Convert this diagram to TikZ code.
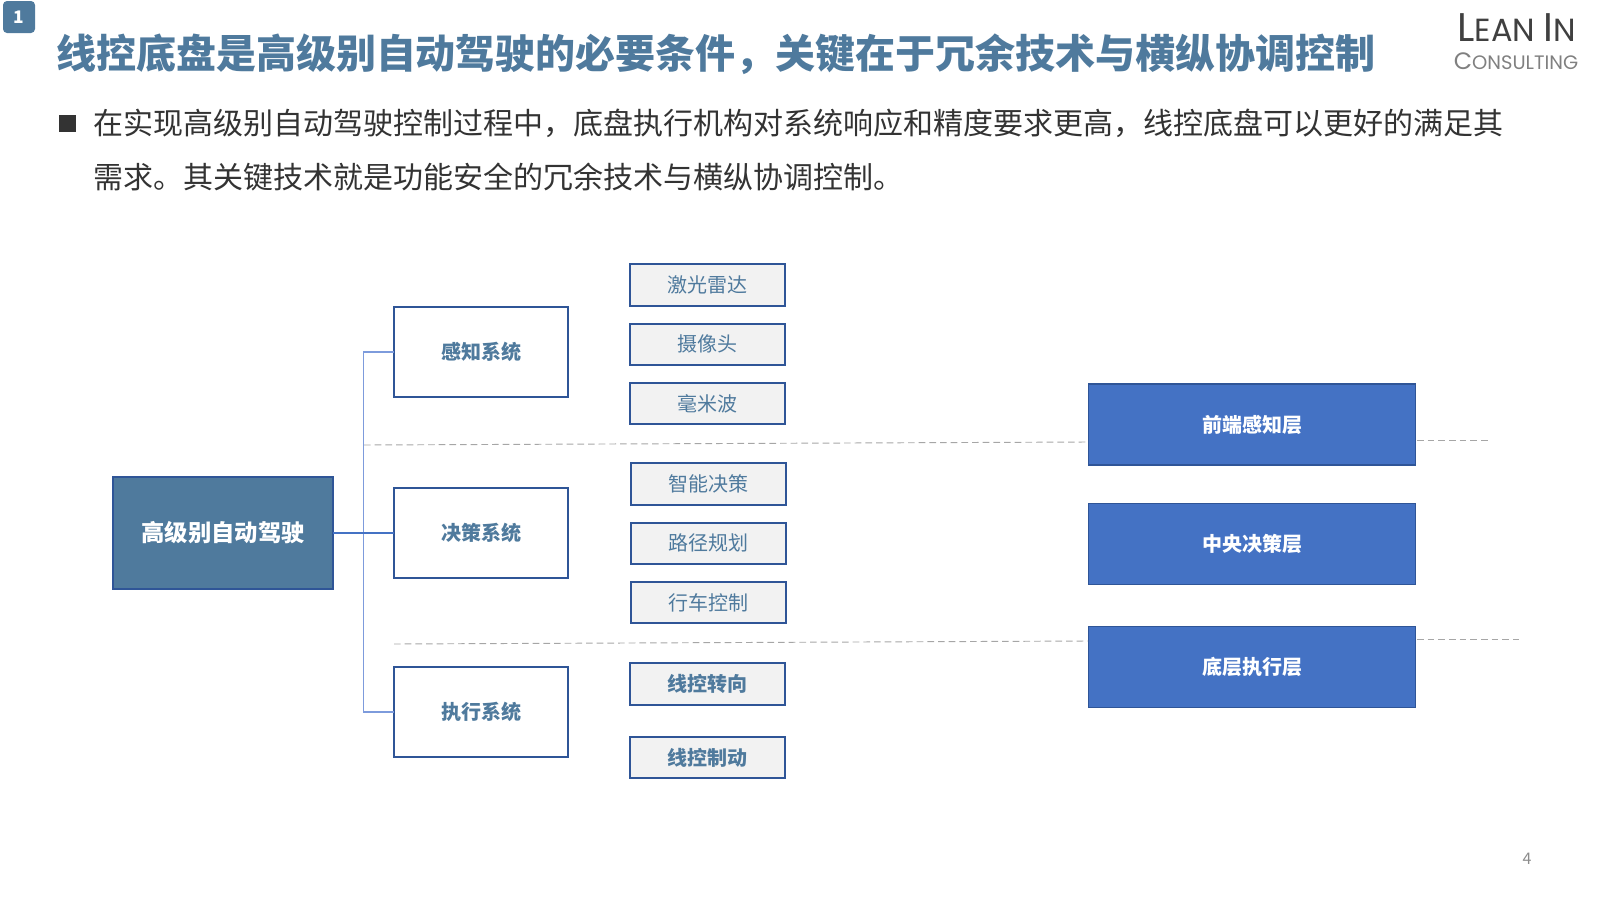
\documentclass[tikz,border=0pt]{standalone}
\usepackage{fontspec}
\usepackage{xcolor}
\usetikzlibrary{positioning}
\setmainfont{Noto Sans CJK SC}
\newfontfamily\logofont{Poppins}
\definecolor{steelblue}{RGB}{79,122,157}
\definecolor{deepblue}{RGB}{47,85,151}
\definecolor{layerblue}{RGB}{68,114,196}
\definecolor{trunkblue}{RGB}{125,155,220}
\definecolor{leafgrey}{RGB}{242,242,242}
\definecolor{bodygrey}{RGB}{51,51,51}
\definecolor{dashgrey}{RGB}{166,166,166}

\begin{document}
\begin{tikzpicture}[x=0.75pt, y=-0.75pt, node distance=13.4pt, every node/.style={inner sep=0pt, outer sep=0pt}]
  \tikzstyle{rootbox}=[rectangle, draw=deepblue, line width=1.5pt, fill=steelblue, text=white, font=\fontsize{17.5}{21}\selectfont\bfseries, minimum width=164.5pt, minimum height=84.5pt]
  \tikzstyle{sysbox}=[rectangle, draw=deepblue, line width=1.5pt, fill=white, text=steelblue, font=\fontsize{15}{18}\selectfont\bfseries, minimum width=130.5pt, minimum height=67.5pt]
  \tikzstyle{leafbox}=[rectangle, draw=deepblue, line width=1.5pt, fill=leafgrey, text=steelblue, font=\fontsize{15}{18}\selectfont, minimum width=116.5pt, minimum height=31pt]
  \tikzstyle{boldleaf}=[leafbox, font=\fontsize{15}{18}\selectfont\bfseries]
  \tikzstyle{layerbox}=[rectangle, draw=deepblue, line width=1.2pt, fill=layerblue, text=white, font=\fontsize{15}{18}\selectfont\bfseries, minimum width=245pt, minimum height=61pt]
  \tikzstyle{branch}=[draw=trunkblue, line width=0.9pt]
  \tikzstyle{divider}=[draw=dashgrey, line width=0.7pt, dash pattern=on 5pt off 3pt]
  \useasboundingbox (0,0) rectangle (1600,900);
  % header
  \node[rectangle, rounded corners=3pt, fill=steelblue, text=white, font=\fontsize{13}{15}\selectfont\bfseries, minimum width=24pt, minimum height=24pt] (badge) at (19,17) {1};
  \node[anchor=west, text=steelblue, font=\fontsize{30}{34}\selectfont\bfseries] (title) at (56,54) {线控底盘是高级别自动驾驶的必要条件，关键在于冗余技术与横纵协调控制};
  \node[anchor=center, text=black!75, font=\logofont\fontsize{30}{32}\selectfont] (lean) at (1517,28) {L\fontsize{24}{32}\selectfont EAN \fontsize{30}{32}\selectfont I\fontsize{24}{32}\selectfont N};
  \node[anchor=center, text=black!50, font=\logofont\fontsize{17.8}{20}\selectfont] (consulting) at (1516,61) {C\fontsize{14.6}{20}\selectfont ONSULTING};
  \node[rectangle, fill=bodygrey, minimum size=13pt] (bullet) at (67.5,123.5) {};
  \node[anchor=north west, text=bodygrey, align=left, font=\fontsize{22.5}{40.5}\selectfont] (intro) at (93.5,109) {在实现高级别自动驾驶控制过程中，底盘执行机构对系统响应和精度要求更高，线控底盘可以更好的满足其\\需求。其关键技术就是功能安全的冗余技术与横纵协调控制。};
  % tree
  \node[rootbox] (root) at (223,533) {高级别自动驾驶};
  \node[sysbox] (percept) at (481,352) {感知系统};
  \node[sysbox] (decide) at (481,533) {决策系统};
  \node[sysbox] (act) at (481,712) {执行系统};
  \node[leafbox] (lidar) at (707.5,285) {激光雷达};
  \node[leafbox, below=of lidar] (camera) {摄像头};
  \node[leafbox, below=of camera] (radar) {毫米波};
  \node[leafbox] (smart) at (708.5,484) {智能决策};
  \node[leafbox, below=of smart] (route) {路径规划};
  \node[leafbox, below=of route] (drive) {行车控制};
  \node[boldleaf] (steer) at (707.5,684) {线控转向};
  \node[boldleaf] (brake) at (707.5,757.5) {线控制动};
  \node[layerbox] (front) at (1252,424.5) {前端感知层};
  \node[layerbox] (center) at (1252,544) {中央决策层};
  \node[layerbox] (bottom) at (1252,667) {底层执行层};
  % connectors
  \coordinate (trunk) at (363.5,533);
  \draw[branch] (percept.west) -| (trunk) |- (act.west);
  \draw[draw=layerblue, line width=1pt] (root.east) -- (decide.west);
  % dividers
  \coordinate (upstart) at (364,445);
  \coordinate (upleft) at (1088,442);
  \coordinate (upright) at (1417,440);
  \coordinate (upend) at (1489,440);
  \coordinate (lowstart) at (394,644);
  \coordinate (lowleft) at (1088,641);
  \coordinate (lowright) at (1417,639);
  \coordinate (lowend) at (1519,639);
  \draw[divider] (upstart) -- (upleft);
  \draw[divider] (upright) -- (upend);
  \draw[divider] (lowstart) -- (lowleft);
  \draw[divider] (lowright) -- (lowend);
  \node[text=black!45, font=\fontsize{12}{14}\selectfont] (pageno) at (1527,859) {4};
\end{tikzpicture}
\end{document}
